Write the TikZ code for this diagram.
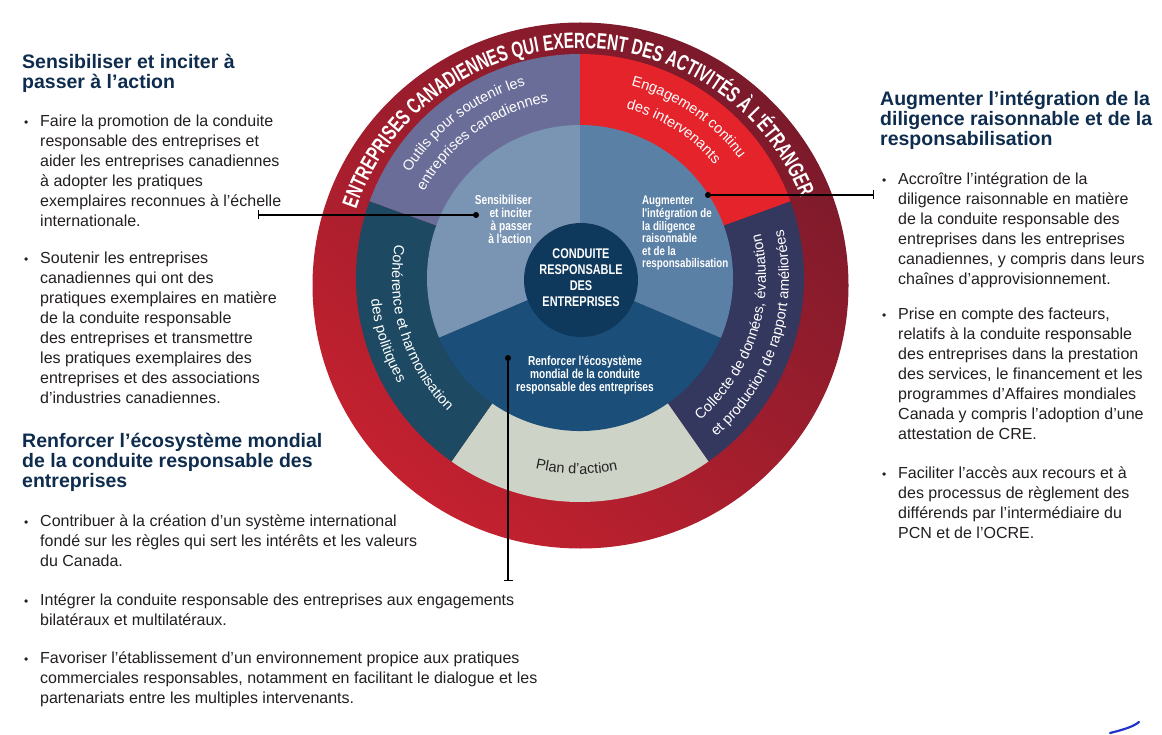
\documentclass[tikz,border=0pt]{standalone}
\usepackage{fontspec}
\setmainfont{Liberation Sans}
\newfontfamily\condfont[FakeStretch=0.78]{Liberation Sans}
\newfontfamily\ringfont[FakeStretch=0.69]{Liberation Sans}
\usetikzlibrary{decorations.text,arrows.meta}

\definecolor{ringdark}{HTML}{7A1A2B}
\definecolor{ringbright}{HTML}{C4212F}
\definecolor{outils}{HTML}{6B6D99}
\definecolor{engage}{HTML}{E5232B}
\definecolor{collecte}{HTML}{34375E}
\definecolor{plan}{HTML}{CED3C8}
\definecolor{coher}{HTML}{1D4962}
\definecolor{sensi}{HTML}{7A94B3}
\definecolor{augm}{HTML}{5B80A5}
\definecolor{renf}{HTML}{1B4E78}
\definecolor{centre}{HTML}{0F395C}
\definecolor{headblue}{HTML}{0E2C4E}
\definecolor{bodytext}{HTML}{231F20}
\definecolor{plantext}{HTML}{222222}
\definecolor{penstroke}{HTML}{2233CC}

\newcommand\tabL[1]{\begin{tabular}[t]{@{}l@{}}#1\end{tabular}}
\newcommand\tabR[1]{\begin{tabular}[t]{@{}r@{}}#1\end{tabular}}
\newcommand\tabC[1]{\begin{tabular}[t]{@{}c@{}}#1\end{tabular}}
% #1 radius, #2 start angle, #3 end angle, #4 format, #5 text
\newcommand\arctext[5]{%
  \path[decorate, decoration={text along path, text align=center, text={|#4|#5}}]
    (#2:#1) arc[start angle=#2, end angle=#3, radius=#1];}

\tikzset{
  txbody/.style={anchor=base west, inner sep=0, text=bodytext, font=\fontsize{16}{20}\selectfont},
  txhead/.style={anchor=base west, inner sep=0, text=headblue, font=\bfseries\fontsize{19.5}{19.5}\selectfont},
  txbul/.style={anchor=base west, inner sep=0, text=bodytext, font=\fontsize{12}{12}\selectfont},
  inlab/.style={inner sep=0, text=white, font=\condfont\bfseries\fontsize{13}{11.7}\selectfont},
  jdot/.style={circle, fill=black, inner sep=0, minimum size=6pt},
  jconn/.style={line width=1.2pt, draw=black, -{Bar[width=9pt]}}
}

\begin{document}
\begin{tikzpicture}[x=1pt,y=1pt]
\useasboundingbox (0,0) rectangle (1162,-735);
\fill[white] (0,0) rectangle (1162,-735);

% outer red ring
\coordinate (C) at (580.5,-285.5);
\shade[top color=ringdark, bottom color=ringbright, shading angle=-40] (C) ellipse[x radius=268, y radius=263];
\begin{scope}[shift={(580.5,-285.5)}]
  \arctext{237}{201.5}{-18.5}{\ringfont\bfseries\fontsize{22}{22}\selectfont\color{white}}{ENTREPRISES CANADIENNES QUI EXERCENT DES ACTIVITÉS À L'ÉTRANGER}
\end{scope}

% middle ring and inner disk
\begin{scope}[shift={(580,-278)}]
  \fill[outils] (0,0) -- (90:224) arc[start angle=90, end angle=160, radius=224] -- cycle;
  \fill[engage] (0,0) -- (20:224) arc[start angle=20, end angle=90, radius=224] -- cycle;
  \fill[collecte] (0,0) -- (-55:224) arc[start angle=-55, end angle=20, radius=224] -- cycle;
  \fill[plan] (0,0) -- (-125:224) arc[start angle=-125, end angle=-55, radius=224] -- cycle;
  \fill[coher] (0,0) -- (160:224) arc[start angle=160, end angle=235, radius=224] -- cycle;
  \fill[sensi] (0,0) -- (90:153) arc[start angle=90, end angle=203, radius=153] -- cycle;
  \fill[renf] (0,0) -- (203:153) arc[start angle=203, end angle=337, radius=153] -- cycle;
  \fill[augm] (0,0) -- (-23:153) arc[start angle=-23, end angle=90, radius=153] -- cycle;

  \arctext{200}{197}{57}{\color{white}\fontsize{14.5}{14.5}\selectfont}{Outils pour soutenir les}
  \arctext{178.5}{195.5}{55.5}{\color{white}\fontsize{14.5}{14.5}\selectfont}{entreprises canadiennes}
  \arctext{199}{126}{-14}{\color{white}\fontsize{14.5}{14.5}\selectfont}{Engagement continu}
  \arctext{176}{127.5}{-12.5}{\color{white}\fontsize{14.5}{14.5}\selectfont}{des intervenants}
  \arctext{188}{127.5}{267.5}{\color{white}\fontsize{14.5}{14.5}\selectfont}{Cohérence et harmonisation}
  \arctext{210}{128}{268}{\color{white}\fontsize{14.5}{14.5}\selectfont}{des politiques}
  \arctext{186}{-88}{52}{\color{white}\fontsize{14.5}{14.5}\selectfont}{Collecte de données, évaluation}
  \arctext{209}{-88}{52}{\color{white}\fontsize{14.5}{14.5}\selectfont}{et production de rapport améliorées}
  \arctext{196}{-141}{-41}{\color{plantext}\fontsize{14.5}{14.5}\selectfont}{Plan d'action}
\end{scope}

% centre disk
\node[circle, fill=centre, minimum size=114pt, inner sep=0] (core) at (581,-280) {};
\node[inlab, anchor=base, font=\condfont\bfseries\fontsize{14}{15.7}\selectfont] (coretext) at (581,-259) {\tabC{CONDUITE\\RESPONSABLE\\DES\\ENTREPRISES}};

% inner labels
\node[inlab, anchor=base east] (lsens) at (532,-204.5) {\tabR{Sensibiliser\\et inciter\\à passer\\à l'action}};
\node[inlab, anchor=base west, font=\condfont\bfseries\fontsize{12.5}{11.7}\selectfont] (laugm) at (642,-205) {\tabL{Augmenter\\l'intégration de\\la diligence\\raisonnable\\et de la\\responsabilisation}};
\node[inlab, anchor=base] (lrenf) at (585,-366) {\tabC{Renforcer l'écosystème\\mondial de la conduite\\responsable des entreprises}};

% connectors
\node[jdot] (d1) at (476,-215) {};
\coordinate (e1) at (258,-215);
\draw[jconn] (d1.center) -- (e1);
\node[jdot] (d2) at (708,-195) {};
\coordinate (e2) at (874,-195);
\draw[jconn] (d2.center) -- (e2);
\node[jdot] (d3) at (508,-358) {};
\coordinate (e3) at (508,-581);
\draw[jconn] (d3.center) -- (e3);

% left column
\node[txhead] (h1) at (22,-68.5) {\tabL{Sensibiliser et inciter à\\passer à l'action}};
\node[txbul] (b1) at (24,-126.5) {•};
\node[txbody] (t1) at (40,-126.5) {\tabL{Faire la promotion de la conduite\\responsable des entreprises et\\aider les entreprises canadiennes\\à adopter les pratiques\\exemplaires reconnues à l'échelle\\internationale.}};
\node[txbul] (b2) at (24,-263.5) {•};
\node[txbody] (t2) at (40,-263.5) {\tabL{Soutenir les entreprises\\canadiennes qui ont des\\pratiques exemplaires en matière\\de la conduite responsable\\des entreprises et transmettre\\les pratiques exemplaires des\\entreprises et des associations\\d'industries canadiennes.}};

\node[txhead, font=\bfseries\fontsize{19.5}{20}\selectfont] (h2) at (22,-447) {\tabL{Renforcer l'écosystème mondial\\de la conduite responsable des\\entreprises}};
\node[txbul] (b3) at (24,-526) {•};
\node[txbody] (t3) at (40,-526) {\tabL{Contribuer à la création d'un système international\\fondé sur les règles qui sert les intérêts et les valeurs\\du Canada.}};
\node[txbul] (b4) at (24,-605) {•};
\node[txbody] (t4) at (40,-605) {\tabL{Intégrer la conduite responsable des entreprises aux engagements\\bilatéraux et multilatéraux.}};
\node[txbul] (b5) at (24,-663) {•};
\node[txbody] (t5) at (40,-663) {\tabL{Favoriser l'établissement d'un environnement propice aux pratiques\\commerciales responsables, notamment en facilitant le dialogue et les\\partenariats entre les multiples intervenants.}};

% right column
\node[txhead] (h3) at (880,-106) {\tabL{Augmenter l'intégration de la\\diligence raisonnable et de la\\responsabilisation}};
\node[txbul] (b6) at (882,-185) {•};
\node[txbody] (t6) at (898,-185) {\tabL{Accroître l'intégration de la\\diligence raisonnable en matière\\de la conduite responsable des\\entreprises dans les entreprises\\canadiennes, y compris dans leurs\\chaînes d'approvisionnement.}};
\node[txbul] (b7) at (882,-319.5) {•};
\node[txbody] (t7) at (898,-319.5) {\tabL{Prise en compte des facteurs,\\relatifs à la conduite responsable\\des entreprises dans la prestation\\des services, le financement et les\\programmes d'Affaires mondiales\\Canada y compris l'adoption d'une\\attestation de CRE.}};
\node[txbul] (b8) at (882,-478.5) {•};
\node[txbody] (t8) at (898,-478.5) {\tabL{Faciliter l'accès aux recours et à\\des processus de règlement des\\différends par l'intermédiaire du\\PCN et de l'OCRE.}};

% stray pen mark
\draw[penstroke, line width=2.2pt, line cap=round] (1110,-733) .. controls (1122,-730) and (1133,-727) .. (1139,-722);
\end{tikzpicture}
\end{document}
